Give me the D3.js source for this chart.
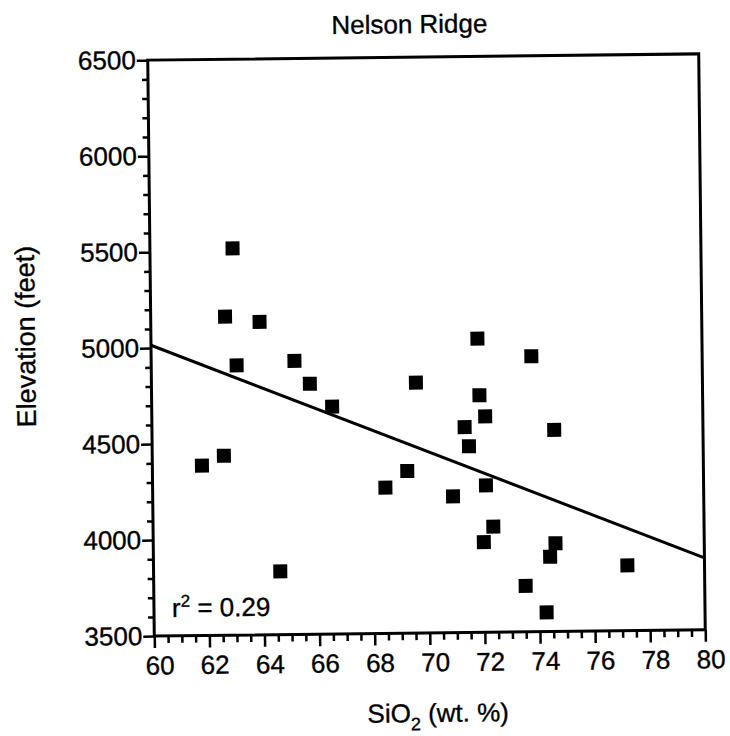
<!DOCTYPE html>
<html><head><meta charset="utf-8">
<script src="https://cdn.jsdelivr.net/npm/d3@7"></script>
<style>
html,body{margin:0;padding:0;background:#fff;}
text{font-family:"Liberation Sans",Arial,Helvetica,sans-serif;fill:#000;stroke:#000;stroke-width:0.35px;}
</style></head>
<body>
<svg id="chart" width="730" height="736"></svg>
<script>
// ---- data ----
const title = "Nelson Ridge";
const sio2 = [62.7, 63.95, 63.1, 65.2, 65.75, 66.55, 61.8, 62.6, 64.6, 71.85,
              73.8, 69.6, 71.9, 72.1, 71.35, 71.5, 74.6, 69.25, 68.45, 70.9,
              72.1, 72.35, 72.0, 74.6, 74.4, 77.2, 73.5, 63.0, 74.25];
const elevation = [5160, 5130, 4905, 4925, 4805, 4685, 4385, 4435, 3830, 5030,
                   4935, 4805, 4735, 4625, 4570, 4470, 4550, 4345, 4260, 4210,
                   4265, 4050, 3970, 3960, 3890, 3840, 3740, 5515, 3600];
const fitX = [60, 80];
const fitY = [5015, 3875];
const xTicks = [60, 62, 64, 66, 68, 70, 72, 74, 76, 78, 80];
const yTicks = [3500, 4000, 4500, 5000, 5500, 6000, 6500];
const rSquared = "0.29";

// ---- layout ----
const svg = d3.select("#chart");
const L = 151, R = 702, T = 57, B = 633;
const g = svg.append("g").attr("transform", "rotate(-0.65 426 345)");

const x = d3.scaleLinear().domain([60, 80]).range([L, R]);
const y = d3.scaleLinear().domain([3500, 6500]).range([B, T]);

// frame
g.append("rect").attr("x", L).attr("y", T).attr("width", R - L).attr("height", B - T)
  .attr("fill", "none").attr("stroke", "#000").attr("stroke-width", 3);

// minor ticks
const xMinor = d3.range(60, 80.001, 0.5).filter(v => Math.abs(v % 2) > 1e-6);
const yMinor = d3.range(3500, 6500.1, 100).filter(v => v % 500 !== 0);

const xAxis = d3.axisBottom(x).tickValues(xTicks).tickSize(12).tickPadding(8).tickFormat(d3.format("d"));
const xAxisMinor = d3.axisBottom(x).tickValues(xMinor).tickSize(7).tickFormat("");
const yAxis = d3.axisLeft(y).tickValues(yTicks).tickSize(11).tickPadding(1).tickFormat(d3.format("d"));
const yAxisMinor = d3.axisLeft(y).tickValues(yMinor).tickSize(6).tickFormat("");

function style(sel) {
  sel.select(".domain").remove();
  sel.selectAll("line").attr("stroke", "#000").attr("stroke-width", 2.5);
  sel.selectAll("text").attr("font-size", 26).attr("fill", "#000")
     .style("font-family", '"Liberation Sans", Arial, sans-serif');
}
g.append("g").attr("transform", `translate(0,${B})`).call(xAxis).call(style)
  .selectAll("text").attr("dx", 5);
g.append("g").attr("transform", `translate(0,${B})`).call(xAxisMinor).call(style);
g.append("g").attr("transform", `translate(${L},0)`).call(yAxis).call(style);
g.append("g").attr("transform", `translate(${L},0)`).call(yAxisMinor).call(style);

// regression line
const line = d3.line().x(d => x(d[0])).y(d => y(d[1]));
g.append("path").datum(d3.zip(fitX, fitY)).attr("d", line)
  .attr("fill", "none").attr("stroke", "#000").attr("stroke-width", 3);

// points
const s = 14;
g.append("g").selectAll("rect").data(d3.zip(sio2, elevation)).join("rect")
  .attr("x", d => x(d[0]) - s / 2).attr("y", d => y(d[1]) - s / 2)
  .attr("width", s).attr("height", s).attr("fill", "#000");

// title
g.append("text").attr("x", 413).attr("y", 33).attr("text-anchor", "middle")
  .attr("font-size", 26).text(title);

// r squared
const rt = g.append("text").attr("x", 169).attr("y", 614).attr("font-size", 26);
rt.append("tspan").text("r");
rt.append("tspan").attr("dy", -10).attr("font-size", 17).text("2");
rt.append("tspan").attr("dy", 10).text(" = " + rSquared);

// x label
const xl = g.append("text").attr("x", 434).attr("y", 722).attr("text-anchor", "middle").attr("font-size", 26);
xl.append("tspan").text("SiO");
xl.append("tspan").attr("dy", 8).attr("font-size", 18).text("2");
xl.append("tspan").attr("dy", -8).text(" (wt. %)");

// y label
g.append("text").attr("transform", "translate(35,332) rotate(-90)").attr("text-anchor", "middle")
  .attr("font-size", 27).text("Elevation (feet)");
</script>
</body></html>
